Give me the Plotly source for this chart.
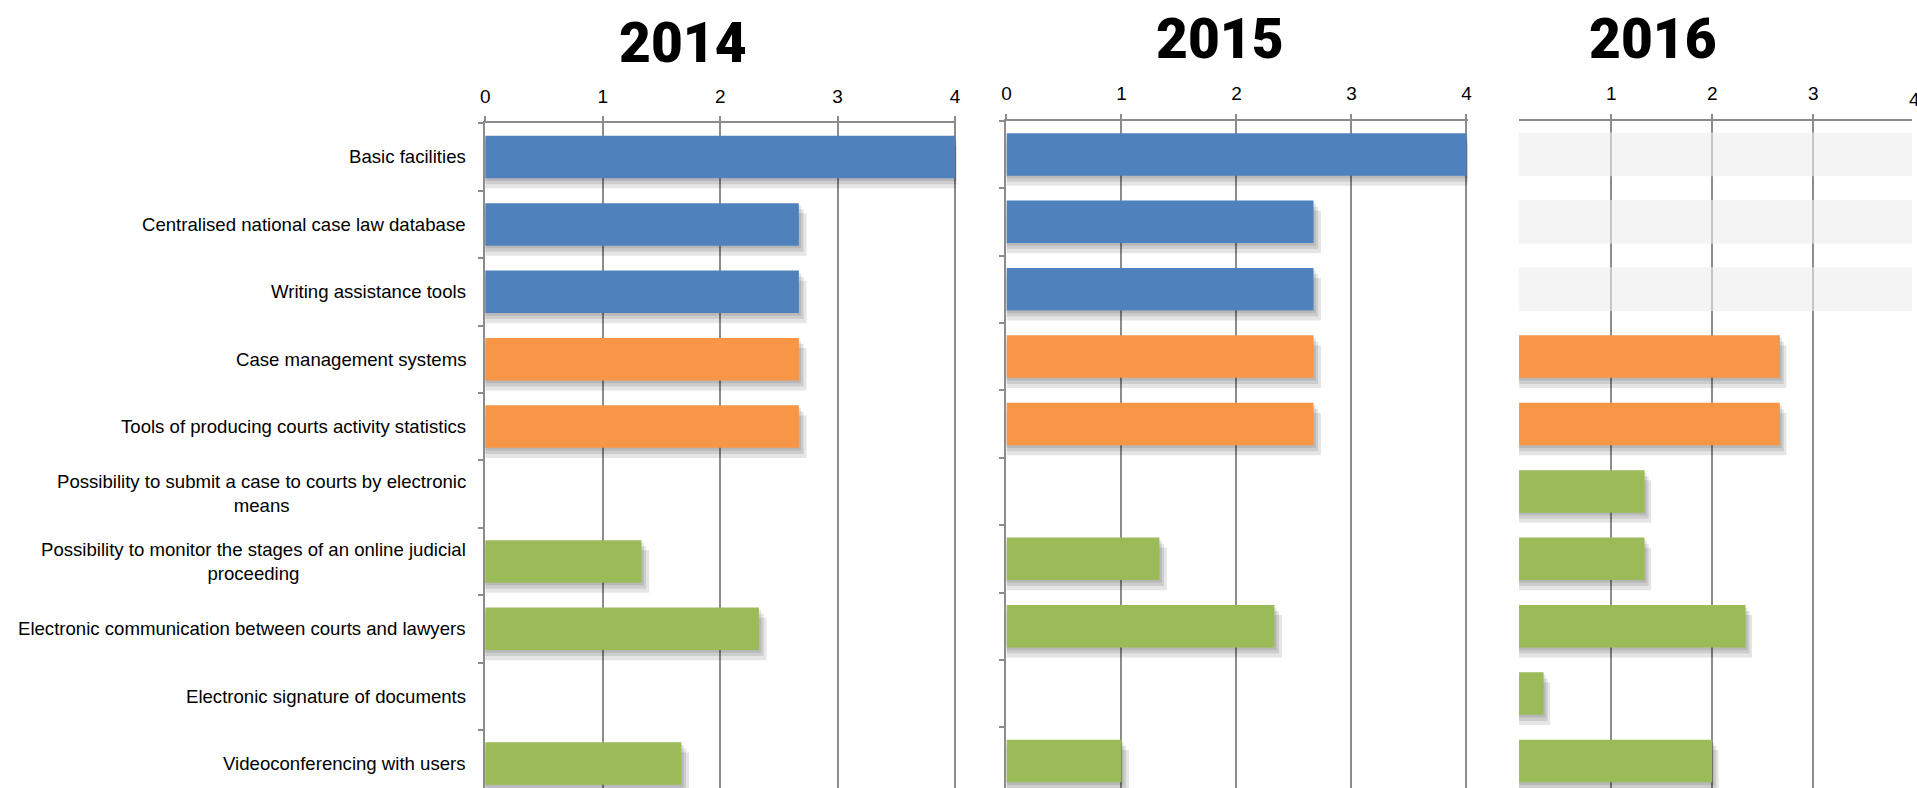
import plotly.graph_objects as go

W, H = 1917, 788

categories = [
    "Basic facilities",
    "Centralised national case law database",
    "Writing assistance tools",
    "Case management systems",
    "Tools of producing courts activity statistics",
    "Possibility to submit a case to courts by electronic<br>means",
    "Possibility to monitor the stages of an online judicial<br>proceeding",
    "Electronic communication between courts and lawyers",
    "Electronic signature of documents",
    "Videoconferencing with users",
]
groups = ["support", "support", "support",
          "management", "management",
          "communication", "communication", "communication", "communication", "communication"]

values_2014 = [4, 2.67, 2.67, 2.67, 2.67, 0, 1.33, 2.33, 0, 1.67]
values_2015 = [4, 2.67, 2.67, 2.67, 2.67, 0, 1.33, 2.33, 0, 1.0]
values_2016 = [None, None, None, 2.67, 2.67, 1.33, 1.33, 2.33, 0.33, 2.0]

years = ["2014", "2015", "2016"]
x_ticks = [0, 1, 2, 3, 4]

group_colors = {"support": "#4F81BD", "management": "#F79646", "communication": "#9BBB59"}
grid = "#8c8c8c"

# pixel layout of the three panels (left, right, top of plot area)
panels = [
    dict(vals=values_2014, left=482.7, right=956.3, top=123.3, xr=[0, 4.01], line=True),
    dict(vals=values_2015, left=1006.7, right=1470.3, top=120.7, xr=[0, 4.01], line=True),
    dict(vals=values_2016, left=1522, right=1917, top=120.7, xr=[0.087, 3.979], line=False),
]
row_px = 67.4
bar_w = 0.63

fig = go.Figure()
shadow_layers = [(0.04, 0.02), (0.09, 0.04), (0.15, 0.065)]

for i, p in enumerate(panels):
    xa = "x" if i == 0 else f"x{i + 1}"
    ya = "y" if i == 0 else f"y{i + 1}"
    vals = p["vals"]
    # soft drop shadow under the bars
    for dy, dx in shadow_layers:
        fig.add_trace(go.Bar(
            x=[v + dx if v else None for v in vals], y=categories, orientation="h",
            width=bar_w, offset=-bar_w / 2 + dy,
            marker=dict(color="rgba(0,0,0,0.10)", line_width=0),
            xaxis=xa, yaxis=ya, hoverinfo="skip", showlegend=False))
    # light grey placeholder for missing values
    if any(v is None for v in vals):
        fig.add_trace(go.Bar(
            x=[p["xr"][1] + 0.2 if v is None else None for v in vals], y=categories,
            orientation="h", width=0.65,
            marker=dict(color="rgba(236,236,236,0.6)", line_width=0),
            xaxis=xa, yaxis=ya, hoverinfo="skip", showlegend=False))
    fig.add_trace(go.Bar(
        x=vals, y=categories, orientation="h", width=bar_w,
        marker=dict(color=[group_colors[g] for g in groups], line_width=0),
        xaxis=xa, yaxis=ya, name=years[i], showlegend=False))

    n_rows = (H - p["top"]) / row_px
    xkey = "xaxis" if i == 0 else f"xaxis{i + 1}"
    ykey = "yaxis" if i == 0 else f"yaxis{i + 1}"
    fig.update_layout(**{
        xkey: dict(domain=[p["left"] / W, p["right"] / W], range=p["xr"], anchor=ya,
                   side="top", showline=True, linecolor=grid, linewidth=2,
                   showgrid=True, gridcolor=grid, gridwidth=1.5, zeroline=False,
                   ticks="outside", ticklen=5, tickcolor=grid, tickwidth=1.5,
                   tickvals=x_ticks, ticklabelstandoff=6, ticklabeloverflow="allow",
                   tickfont=dict(size=19, color="black")),
        ykey: dict(domain=[0, (H - p["top"]) / H], anchor=xa, type="category",
                   categoryorder="array", categoryarray=categories,
                   range=[n_rows - 0.5, -0.5], showline=p["line"], linecolor=grid,
                   linewidth=2, ticks="outside" if p["line"] else "", tickson="boundaries",
                   ticklen=5, tickcolor=grid, tickwidth=1.5, showticklabels=False,
                   showgrid=False, zeroline=False),
    })

# the "4" of the last panel sits just past the right edge of the image
r0, r1 = panels[2]["xr"]
fig.add_annotation(x=(x_ticks[-1] - r0) / (r1 - r0), xref="x3 domain", y=1, yref="y3 domain",
                   text=str(x_ticks[-1]), showarrow=False, xanchor="center", yanchor="bottom",
                   yshift=9, font=dict(size=19, color="black"))

# category labels (centred multi-line text, right aligned to the first panel)
for c in categories:
    fig.add_annotation(x=0, xref="x domain", y=c, yref="y", text=c, showarrow=False,
                       xanchor="right", yanchor="middle", align="center", xshift=-17,
                       font=dict(size=18.6, color="black"))

# panel titles
for year, cx, cy in [("2014", 682, 43), ("2015", 1221, 39), ("2016", 1657, 39)]:
    fig.add_annotation(x=cx / W, y=1 - cy / H, xref="paper", yref="paper", text=year,
                       showarrow=False, xanchor="center", yanchor="middle",
                       font=dict(family="Roboto, Liberation Sans", size=55, weight=900,
                                 color="black"))

fig.update_layout(
    width=W, height=H, margin=dict(l=0, r=0, t=0, b=0),
    paper_bgcolor="white", plot_bgcolor="white", barmode="overlay", showlegend=False,
    font=dict(family="Liberation Sans, Arial, sans-serif", size=18, color="black"),
)

fig.write_html("out.html", config={"displayModeBar": False},
               post_script="document.body.style.margin='0';document.body.style.overflow='hidden';")
